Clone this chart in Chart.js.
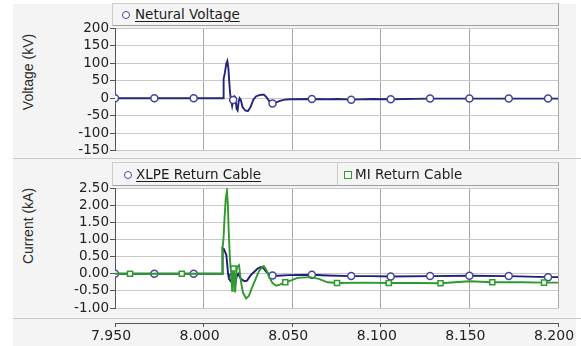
<!DOCTYPE html>
<html>
<head>
<meta charset="utf-8">
<script src="https://cdn.jsdelivr.net/npm/chart.js@4.4.1/dist/chart.umd.min.js"></script>
<style>
  html, body { margin: 0; padding: 0; background: #fff; }
  #frame { position: relative; width: 581px; height: 346px; overflow: hidden; background: #fff; }
  #panel { position: absolute; left: 13px; top: 4px; width: 563px; height: 342px; background: #f4f4f4; }
  canvas { position: absolute; left: 0; }
  .rule { position: absolute; left: 13px; width: 568px; height: 1px; background: #c9c9c9; }
  .legend { position: absolute; box-sizing: border-box; border: 1px solid #cdcdcd;
            border-right-color: #a0a0a0; border-bottom-color: #a0a0a0;
            font: 13.5px "DejaVu Sans", sans-serif; color: #1c1c1c; white-space: nowrap; }
  .legend .txt { position: absolute; text-underline-offset: 2px; text-decoration-thickness: 1px; }
  .mk { position: absolute; box-sizing: border-box; width: 8px; height: 8px; background: #fff; }
  .mk.circle { border: 1.6px solid #4444a0; border-radius: 50%; }
  .mk.square { border: 1.6px solid #2f9b2f; }
  .ytitle { position: absolute; font: 14px "Liberation Sans", Arial, sans-serif; color: #2a2a2a;
            transform: translate(-50%, -50%) rotate(-90deg); white-space: nowrap; }
</style>
</head>
<body>
<div id="frame">
  <div id="panel"></div>

  <div class="legend" style="left:112px; top:3px; width:447px; height:23px;">
    <div class="mk circle" style="left:9px; top:7px;"></div>
    <span class="txt" style="left:22px; top:2px; text-decoration:underline;">Netural Voltage</span>
  </div>
  <div class="ytitle" style="left:28px; top:72px;">Voltage (kV)</div>
  <canvas id="cvTop" width="581" height="160" style="top:0;"></canvas>

  <div class="rule" style="top:158px;"></div>

  <div class="legend" style="left:112px; top:162px; width:226px; height:24px;">
    <div class="mk circle" style="left:11px; top:8px;"></div>
    <span class="txt" style="left:23px; top:3px; text-decoration:underline;">XLPE Return Cable</span>
  </div>
  <div class="legend" style="left:337px; top:162px; width:222px; height:24px;">
    <div class="mk square" style="left:6px; top:8px;"></div>
    <span class="txt" style="left:17px; top:3px;">MI Return Cable</span>
  </div>
  <div class="ytitle" style="left:28px; top:226px;">Current (kA)</div>
  <canvas id="cvBottom" width="581" height="158" style="top:160px;"></canvas>

  <div class="rule" style="top:318px;"></div>
  <canvas id="cvAxis" width="581" height="28" style="top:318px;"></canvas>
</div>

<script>
// Time axis (s)
const timeMin = 7.95;
const timeMax = 8.2;
const timeStep = 0.05;

// Neutral voltage (kV)
const voltTime = [7.95, 7.9722, 7.9944, 8.0110, 8.0113, 8.0120, 8.0128, 8.0134, 8.0140, 8.0145,
  8.0150, 8.0155, 8.0161, 8.0167, 8.0174, 8.0180, 8.0186, 8.0192, 8.0198, 8.0203,
  8.0210, 8.0220, 8.0235, 8.0250, 8.0265, 8.0280, 8.0295, 8.0310, 8.0325, 8.0340,
  8.0355, 8.0370, 8.0385, 8.0389, 8.0400, 8.0420, 8.0440, 8.0460, 8.0490, 8.0611,
  8.0700, 8.0760, 8.0833, 8.0950, 8.1056, 8.1278, 8.1500, 8.1722, 8.1944, 8.2000];
const voltKV = [0, 0, 0, 0, 55, 72, 98, 106, 85, 45,
  12, -5, -22, -5, 5, 2, -30, -35, -10, 0,
  -5, -25, -35, -37, -25, -5, 5, 8, 10, 10,
  3, -8, -15, -15, -14, -10, -6, -4, -3, -2,
  -3, -2, -4, -2, -3, -1, -1, -1, -1, -1];
const voltMarkers = [7.95, 7.9722, 7.9944, 8.0167, 8.0389, 8.0611, 8.0833, 8.1056, 8.1278, 8.1500, 8.1722, 8.1944];

// XLPE return cable current (kA)
const xlpeTime = [7.95, 7.9722, 7.9944, 8.0106, 8.0107, 8.0115, 8.0122, 8.0128, 8.0133, 8.0138,
  8.0143, 8.0150, 8.0155, 8.0161, 8.0167, 8.0172, 8.0178, 8.0185, 8.0195, 8.0210,
  8.0230, 8.0245, 8.0265, 8.0285, 8.0305, 8.0325, 8.0340, 8.0355, 8.0370, 8.0389,
  8.0420, 8.0480, 8.0611, 8.0700, 8.0833, 8.0950, 8.1056, 8.1278, 8.1500, 8.1722,
  8.1944, 8.2000];
const xlpeKA = [0, 0, 0, 0, 0.75, 0.72, 0.62, 0.55, 0.30, 0.0,
  -0.15, -0.2, -0.05, 0.05, -0.1, -0.3, -0.35, -0.1, 0.0, -0.15,
  -0.22, -0.2, -0.05, 0.05, 0.15, 0.2, 0.15, 0.05, -0.02, -0.05,
  -0.06, -0.04, -0.03, -0.05, -0.07, -0.07, -0.08, -0.07, -0.06, -0.07,
  -0.1, -0.1];
const xlpeMarkers = [7.95, 7.9722, 7.9944, 8.0167, 8.0389, 8.0611, 8.0833, 8.1056, 8.1278, 8.1500, 8.1722, 8.1944];

// MI return cable current (kA)
const miTime = [7.95, 7.9585, 7.9877, 8.0106, 8.0107, 8.0112, 8.0118, 8.0125, 8.0132, 8.0137,
  8.0142, 8.0148, 8.0152, 8.0157, 8.0161, 8.0165, 8.0169, 8.0173, 8.0178, 8.0184,
  8.0189, 8.0200, 8.0210, 8.0222, 8.0240, 8.0255, 8.0270, 8.0290, 8.0310, 8.0330,
  8.0340, 8.0355, 8.0370, 8.0390, 8.0410, 8.0430, 8.0461, 8.0490, 8.0530, 8.0600,
  8.0650, 8.0700, 8.0753, 8.0900, 8.1045, 8.1200, 8.1337, 8.1500, 8.1629, 8.1800,
  8.1921, 8.2000];
const miKA = [0, 0, 0, 0, 0.75, 1.0, 1.6, 2.2, 2.42, 2.0,
  1.2, 0.5, 0.2, 0.0, -0.5, 0.1, 0.15, 0.0, -0.55, 0.0,
  0.2, 0.25, -0.2, -0.55, -0.72, -0.65, -0.45, -0.2, 0.05, 0.2,
  0.22, 0.1, -0.1, -0.28, -0.35, -0.32, -0.25, -0.2, -0.12, -0.1,
  -0.15, -0.25, -0.27, -0.26, -0.27, -0.27, -0.28, -0.22, -0.25, -0.25,
  -0.26, -0.26];
const miMarkers = [7.9585, 7.9877, 8.0169, 8.0461, 8.0753, 8.1045, 8.1337, 8.1629, 8.1921];

// Axis ranges
const voltMin = -150, voltMax = 200, voltStep = 50;
const ampMin = -1.0, ampMax = 2.5, ampStep = 0.5;

const toPoints = (xs, ys) => xs.map((t, i) => ({ x: t, y: ys[i] }));
const markerRadius = (list, r) => ctx => (ctx.raw && list.includes(ctx.raw.x)) ? r : 0;

// White plotting area on the grey panel
const plotBg = {
  id: 'plotBg',
  beforeDraw(chart) {
    const a = chart.chartArea, c = chart.ctx;
    c.save();
    c.fillStyle = '#ffffff';
    c.fillRect(a.left, a.top, a.right - a.left, a.bottom - a.top);
    c.restore();
  }
};

const tickFont = { family: 'DejaVu Sans', size: 13.5 };

function xGrid() {
  return {
    type: 'linear', min: timeMin, max: timeMax,
    ticks: { display: false, stepSize: timeStep },
    grid: { color: '#a6a6a6', lineWidth: 1, drawTicks: false },
    border: { display: false },
    afterFit: s => { s.height = 0; }
  };
}

function yAxis(min, max, step, fmt) {
  return {
    min: min, max: max,
    ticks: { stepSize: step, autoSkip: false, font: tickFont, color: '#222', padding: 1, callback: fmt },
    grid: { color: '#c8c8c8', tickColor: '#555', tickLength: 5 },
    border: { color: '#555', width: 1 },
    afterFit: s => { s.width = 115; }
  };
}

const common = {
  responsive: false,
  animation: false,
  devicePixelRatio: 1,
  plugins: { legend: { display: false }, tooltip: { enabled: false } },
  elements: { line: { tension: 0 } }
};

// Voltage panel
new Chart(document.getElementById('cvTop'), {
  type: 'line',
  data: {
    datasets: [{
      label: 'Netural Voltage',
      data: toPoints(voltTime, voltKV),
      borderColor: '#25257a', borderWidth: 1.9,
      pointRadius: markerRadius(voltMarkers, 3.5),
      pointBorderColor: '#4444a0', pointBackgroundColor: '#ffffff', pointBorderWidth: 1.5
    }]
  },
  options: Object.assign({}, common, {
    layout: { padding: { left: 0, right: 23, top: 28, bottom: 8 } },
    scales: {
      x: xGrid(),
      y: yAxis(voltMin, voltMax, voltStep, v => String(v))
    }
  }),
  plugins: [plotBg]
});

// Current panel
new Chart(document.getElementById('cvBottom'), {
  type: 'line',
  data: {
    datasets: [{
      label: 'MI Return Cable',
      data: toPoints(miTime, miKA),
      borderColor: '#2e9a2e', borderWidth: 1.9,
      pointRadius: markerRadius(miMarkers, 3.6), pointStyle: 'rect',
      pointBorderColor: '#2e9a2e', pointBackgroundColor: '#ffffff', pointBorderWidth: 1.5
    }, {
      label: 'XLPE Return Cable',
      data: toPoints(xlpeTime, xlpeKA),
      borderColor: '#1f1f78', borderWidth: 1.9,
      pointRadius: markerRadius(xlpeMarkers, 3.5),
      pointBorderColor: '#4444a0', pointBackgroundColor: '#ffffff', pointBorderWidth: 1.5
    }]
  },
  options: Object.assign({}, common, {
    layout: { padding: { left: 0, right: 23, top: 28, bottom: 10 } },
    scales: {
      x: xGrid(),
      y: yAxis(ampMin, ampMax, ampStep, v => Number(v).toFixed(2))
    }
  }),
  plugins: [plotBg]
});

// Shared time axis below the current panel
new Chart(document.getElementById('cvAxis'), {
  type: 'line',
  data: { datasets: [] },
  options: Object.assign({}, common, {
    layout: { padding: { left: 115, right: 23, top: 0, bottom: 0 } },
    scales: {
      x: {
        type: 'linear', min: timeMin, max: timeMax,
        ticks: { stepSize: timeStep, autoSkip: false, font: { family: 'DejaVu Sans', size: 14 }, color: '#222',
                 padding: 1, labelOffset: -4, maxRotation: 0, callback: v => Number(v).toFixed(3) },
        grid: { drawOnChartArea: false, tickColor: '#555', tickLength: 4 },
        border: { color: '#555', width: 1 },
        afterFit: s => { s.height = 23; }
      },
      y: { display: false, min: 0, max: 1 }
    }
  })
});
</script>
</body>
</html>
